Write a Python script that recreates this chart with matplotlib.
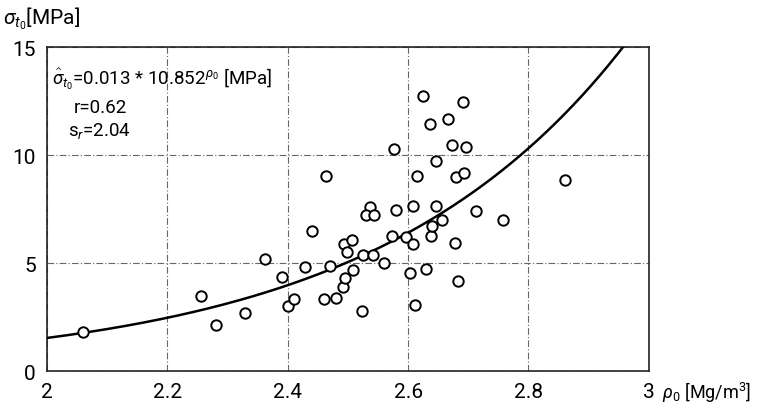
import numpy as np
import matplotlib
matplotlib.use("Agg")
import matplotlib.pyplot as plt

# ===============================
# DATA
# ===============================
rho = [2.060, 2.256, 2.281, 2.329, 2.362, 2.390, 2.400, 2.410, 2.429, 2.440,
       2.460, 2.463, 2.470, 2.480, 2.492, 2.495, 2.508, 2.493, 2.507, 2.498,
       2.523, 2.525, 2.541, 2.537, 2.530, 2.543, 2.560, 2.573, 2.576, 2.580,
       2.596, 2.603, 2.608, 2.608, 2.611, 2.615, 2.625, 2.630, 2.636, 2.638,
       2.640, 2.646, 2.646, 2.656, 2.666, 2.673, 2.678, 2.679, 2.683, 2.691,
       2.693, 2.696, 2.713, 2.757, 2.860]
sigma = [1.80, 3.47, 2.13, 2.69, 5.19, 4.33, 3.00, 3.33, 4.82, 6.50,
         3.33, 9.03, 4.86, 3.40, 3.89, 4.31, 4.70, 5.88, 6.08, 5.50,
         2.78, 5.37, 5.37, 7.59, 7.22, 7.22, 5.00, 6.25, 10.28, 7.45,
         6.20, 4.54, 7.64, 5.88, 3.06, 9.03, 12.73, 4.72, 11.43, 6.25,
         6.71, 9.72, 7.64, 6.99, 11.67, 10.46, 5.93, 8.98, 4.17, 12.45,
         9.17, 10.37, 7.41, 6.99, 8.84]

a, b = 0.013, 10.852          # fitted model  sigma = a * b**rho
x_ticks = [2, 2.2, 2.4, 2.6, 2.8, 3]
x_labels = ["2", "2.2", "2.4", "2.6", "2.8", "3"]
y_ticks = [0, 5, 10, 15]

# ===============================
# PLOT
# ===============================
plt.rcParams["font.family"] = ["Roboto", "DejaVu Sans"]
plt.rcParams["font.weight"] = "normal"
plt.rcParams["mathtext.fontset"] = "custom"
plt.rcParams["mathtext.rm"] = "Roboto"
plt.rcParams["mathtext.it"] = "Roboto:italic"

fig = plt.figure(figsize=(7.58, 4.14), dpi=100)
ax = fig.add_axes([0.062, 0.1014, 0.794, 0.7826])

xx = np.linspace(2, 3, 400)
ax.plot(xx, a * b ** xx, color="black", lw=1.8, zorder=3)
ax.plot(rho, sigma, "o", mfc="white", mec="black", mew=1.4, ms=7.5,
        zorder=4, clip_on=False)

ax.set_xlim(2, 3)
ax.set_ylim(0, 15)
ax.set_xticks(x_ticks)
ax.set_xticklabels(x_labels)
ax.set_yticks(y_ticks)
ax.tick_params(length=0, labelsize=15, pad=8)
ax.grid(True, color="#666666", lw=0.8, ls=(0, (6, 2, 1, 2)))
for s in ax.spines.values():
    s.set_linewidth(1.2)
    s.set_color("#222222")

# axis titles drawn as free text like in the original scan
fig.text(0.004, 0.955, r"$\sigma_{t_0}$[MPa]", fontsize=15, va="center")
fig.text(0.874, 0.051, r"$\rho_0$ [Mg/m$^3$]", fontsize=13, va="center")

ax.text(0.008, 0.905, r"$\hat{\sigma}_{t_0}$=0.013 * 10.852$^{\rho_0}$ [MPa]",
        transform=ax.transAxes, fontsize=13.5, va="center")
ax.text(0.045, 0.815, "r=0.62", transform=ax.transAxes, fontsize=13.5,
        va="center")
ax.text(0.035, 0.745, r"s$_r$=2.04", transform=ax.transAxes, fontsize=13.5,
        va="center")

plt.savefig("out.png", dpi=100)
